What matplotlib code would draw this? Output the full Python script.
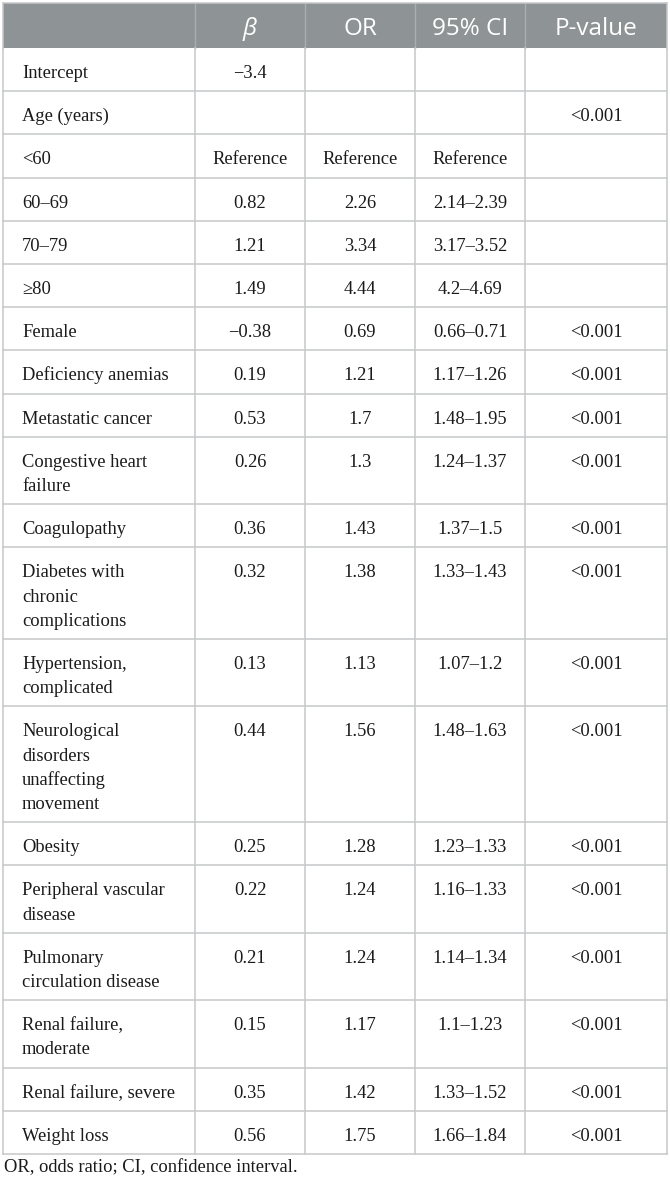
import matplotlib
matplotlib.use("Agg")
import matplotlib.pyplot as plt
from matplotlib.patches import Rectangle

# ---- data ----
headers = ["", "β", "OR", "95% CI", "P-value"]
labels = [
    "Intercept", "Age (years)", "<60", "60–69", "70–79", "≥80", "Female",
    "Deficiency anemias", "Metastatic cancer", "Congestive heart\nfailure",
    "Coagulopathy", "Diabetes with\nchronic\ncomplications",
    "Hypertension,\ncomplicated", "Neurological\ndisorders\nunaffecting\nmovement",
    "Obesity", "Peripheral vascular\ndisease", "Pulmonary\ncirculation disease",
    "Renal failure,\nmoderate", "Renal failure, severe", "Weight loss",
]
beta = ["−3.4", "", "Reference", "0.82", "1.21", "1.49", "−0.38", "0.19", "0.53",
        "0.26", "0.36", "0.32", "0.13", "0.44", "0.25", "0.22", "0.21", "0.15",
        "0.35", "0.56"]
odds = ["", "", "Reference", "2.26", "3.34", "4.44", "0.69", "1.21", "1.7",
        "1.3", "1.43", "1.38", "1.13", "1.56", "1.28", "1.24", "1.24", "1.17",
        "1.42", "1.75"]
ci = ["", "", "Reference", "2.14–2.39", "3.17–3.52", "4.2–4.69", "0.66–0.71",
      "1.17–1.26", "1.48–1.95", "1.24–1.37", "1.37–1.5", "1.33–1.43",
      "1.07–1.2", "1.48–1.63", "1.23–1.33", "1.16–1.33", "1.14–1.34",
      "1.1–1.23", "1.33–1.52", "1.66–1.84"]
pval = ["", "<0.001", "", "", "", "", "<0.001", "<0.001", "<0.001", "<0.001",
        "<0.001", "<0.001", "<0.001", "<0.001", "<0.001", "<0.001", "<0.001",
        "<0.001", "<0.001", "<0.001"]
footnote = "OR, odds ratio; CI, confidence interval."

# ---- layout ----
W, H = 670, 1183
fig = plt.figure(figsize=(W / 100, H / 100), dpi=100)
ax = fig.add_axes([0, 0, 1, 1])
ax.set_xlim(0, W)
ax.set_ylim(H, 0)
ax.axis("off")

col_x = [3, 195, 305, 415, 525, 667]
top = 3
head_h = 45
line_gap = 24.2
header_bg = "#8e9496"
grid = "#c6c8c9"
serif = ["Liberation Serif", "DejaVu Serif"]
sans = ["Open Sans", "DejaVu Sans"]
fs = 13.3

# header
ax.add_patch(Rectangle((col_x[0], top), col_x[-1] - col_x[0], head_h,
                       facecolor=header_bg, edgecolor="none", zorder=1))
for x in col_x[1:-1]:
    ax.plot([x, x], [top, top + head_h], color="#a9aeb0", lw=1, zorder=2)
for i, h in enumerate(headers):
    if not h:
        continue
    cx = (col_x[i] + col_x[i + 1]) / 2
    ax.text(cx, top + 32, h, ha="center", va="baseline", color="white",
            fontsize=17.5, family=sans,
            style="italic" if h == "β" else "normal", zorder=3)

# body
y = top + head_h
row_tops = []
for lab in labels:
    n = lab.count("\n") + 1
    h = 19 + 24.2 * n
    row_tops.append((y, h))
    y += h
bottom = y

for r, (lab, (yt, h)) in enumerate(zip(labels, row_tops)):
    lines = lab.split("\n")
    for k, ln in enumerate(lines):
        ax.text(22, yt + 30 + k * line_gap, ln, ha="left", va="baseline",
                fontsize=fs, family=serif, color="#1a1a1a", zorder=3)
    for c, vals in enumerate([beta, odds, ci, pval], start=1):
        v = vals[r]
        if v:
            cx = (col_x[c] + col_x[c + 1]) / 2
            ax.text(cx, yt + 30, v, ha="center", va="baseline", fontsize=fs,
                    family=serif, color="#1a1a1a", zorder=3)
    ax.plot([col_x[0], col_x[-1]], [yt + h, yt + h], color=grid, lw=1.1, zorder=2)

for x in col_x:
    ax.plot([x, x], [top + head_h, bottom], color=grid, lw=1.1, zorder=2)
ax.plot([col_x[0], col_x[-1]], [top, top], color=grid, lw=1.1, zorder=2)
ax.plot([col_x[0], col_x[0]], [top, top + head_h], color=grid, lw=1.1, zorder=2)
ax.plot([col_x[-1], col_x[-1]], [top, top + head_h], color=grid, lw=1.1, zorder=2)

ax.text(4, bottom + 18, footnote, ha="left", va="baseline", fontsize=fs,
        family=serif, color="#1a1a1a")

fig.savefig("out.png", dpi=100, facecolor="white")
